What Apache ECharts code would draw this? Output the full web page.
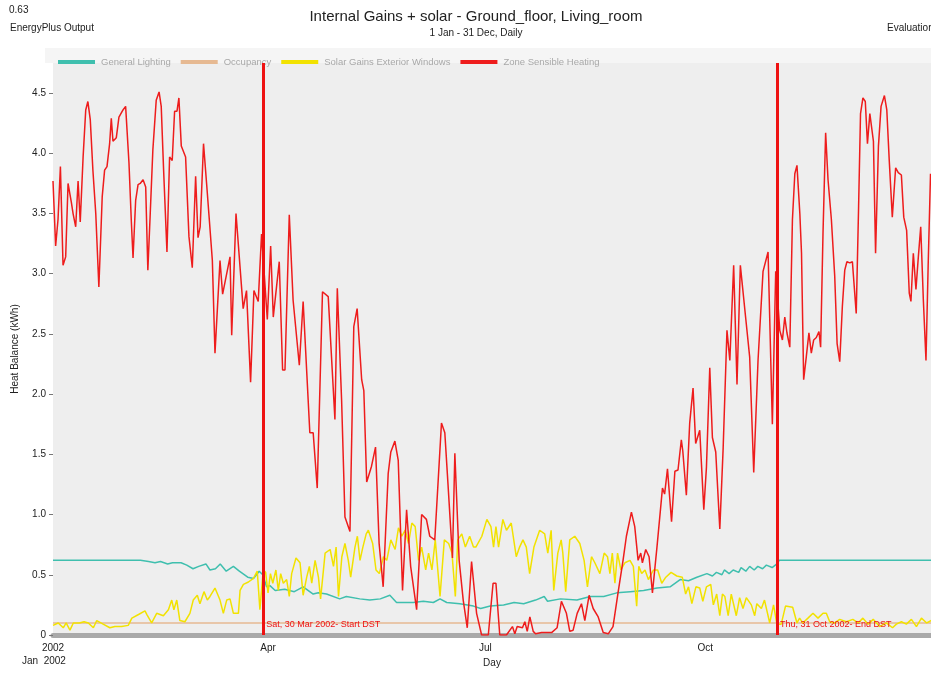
<!DOCTYPE html>
<html><head><meta charset="utf-8">
<script src="https://cdn.jsdelivr.net/npm/echarts@6/dist/echarts.min.js"></script>
<style>html,body{margin:0;padding:0;background:#fff}#c{width:931px;height:673px}</style>
</head><body><div id="c"></div>
<script>
// ---- data (x = day of year 2002, y = kWh) ----
const seriesNames = ['General Lighting','Occupancy','Solar Gains Exterior Windows','Zone Sensible Heating'];
const xTickDays = [0, 90, 181, 273];
const xTickLabels = ['2002','Apr','Jul','Oct'];
const yTicks = [0,0.5,1,1.5,2,2.5,3,3.5,4,4.5];
const dstDays = [88, 303];
const dstLabels = ['Sat, 30 Mar 2002- Start DST','Thu, 31 Oct 2002- End DST'];

const lighting = [[0,0.62],[33,0.62],[36.6,0.62],[40,0.61],[42.7,0.60],[45,0.61],[48,0.59],[50,0.60],[53.6,0.60],[56,0.58],[58.6,0.55],[61,0.57],[64,0.59],[65.7,0.54],[68,0.55],[70,0.59],[72.5,0.53],[75.5,0.57],[78,0.53],[81.5,0.48],[84,0.47],[86.3,0.53],[87.8,0.50],[89.4,0.40],[90.8,0.41],[93,0.37],[97,0.38],[101,0.36],[104.7,0.40],[108.9,0.34],[111,0.35],[114.5,0.34],[120,0.30],[122.8,0.32],[128.4,0.30],[132.6,0.29],[137,0.30],[141,0.33],[143.8,0.27],[150.8,0.27],[155,0.28],[159.2,0.27],[162,0.30],[164.8,0.27],[170.3,0.26],[176,0.24],[179,0.22],[183,0.24],[188.6,0.25],[193,0.27],[197,0.26],[202,0.29],[205.6,0.32],[207,0.28],[212.4,0.30],[219.3,0.29],[224.9,0.32],[230.5,0.32],[236,0.35],[241.6,0.36],[247.2,0.37],[252.8,0.39],[258.3,0.40],[262.5,0.46],[266,0.45],[269.5,0.48],[273.7,0.51],[276,0.49],[277.7,0.52],[280,0.50],[281,0.54],[283,0.51],[284.7,0.54],[287,0.52],[288,0.56],[290,0.53],[291.6,0.57],[293.5,0.54],[295,0.57],[297,0.55],[298.6,0.58],[301,0.56],[303,0.59],[304,0.62],[368.4,0.62]];

const occupancy = [[0,0.1],[88,0.1],[303,0.1],[368.4,0.1]];

const solar = [[0,0.08],[2.2,0.10],[4.3,0.06],[5.5,0.10],[7.1,0.04],[8.5,0.10],[11,0.10],[13,0.11],[14.8,0.10],[16.9,0.06],[18.3,0.12],[21,0.09],[23.8,0.06],[25.9,0.07],[28.7,0.07],[31.5,0.08],[33,0.14],[35.8,0.17],[38.5,0.20],[39.3,0.17],[41.3,0.10],[43.4,0.18],[46.2,0.16],[48.3,0.21],[49.7,0.29],[50.6,0.21],[51.8,0.29],[53.1,0.12],[55.2,0.11],[57.3,0.18],[58.7,0.29],[60.4,0.33],[61.5,0.26],[63.2,0.36],[64.6,0.29],[65.7,0.32],[67.8,0.39],[69.9,0.29],[71.3,0.18],[72.7,0.29],[74.1,0.30],[75.5,0.18],[77.6,0.18],[78.3,0.37],[79.7,0.42],[81.8,0.44],[83.9,0.47],[85.5,0.53],[86.6,0.21],[88,0.54],
[89,0.52],[90,0.35],[91,0.51],[92,0.43],[93.3,0.54],[94.3,0.37],[95.3,0.51],[96.4,0.43],[97.8,0.46],[98.9,0.32],[99.9,0.51],[101.7,0.64],[103.4,0.60],[104.7,0.33],[106.2,0.48],[107.3,0.57],[108.3,0.43],[109.7,0.62],[111.1,0.48],[112,0.30],[113.9,0.68],[116,0.71],[117.4,0.57],[118.5,0.73],[119.5,0.32],[120.9,0.65],[122.2,0.76],[123.6,0.62],[124.6,0.48],[126.4,0.73],[127.4,0.82],[128.5,0.62],[129.7,0.73],[131.1,0.84],[132,0.87],[133.8,0.76],[135.2,0.54],[136.6,0.51],[138.3,0.65],[139.7,0.62],[141.4,0.79],[143.2,0.71],[144.6,0.89],[146,0.82],[147.4,0.87],[148.8,0.76],[150.2,0.93],[151.6,0.90],[153,0.62],[154.3,0.73],[156,0.54],[157.2,0.68],[158.6,0.54],[160,0.79],[162,0.32],[163.8,0.79],[165.6,0.76],[167,0.68],[168.4,0.32],[169.4,0.79],[171.1,0.84],[172.6,0.73],[174.4,0.82],[176,0.73],[177,0.73],
[179.5,0.82],[181.6,0.96],[183.3,0.90],[184.4,0.73],[185.4,0.90],[186.5,0.73],[188.3,0.96],[189.8,0.87],[191.8,0.93],[193.9,0.65],[195.3,0.73],[196.7,0.79],[198.1,0.73],[199.5,0.51],[201.3,0.73],[203.7,0.87],[205.8,0.84],[207.1,0.68],[208.5,0.87],[209.6,0.37],[211.3,0.68],[212.7,0.79],[213.4,0.68],[214.6,0.36],[216.3,0.79],[218.4,0.82],[220.5,0.76],[222.3,0.62],[223.7,0.40],[225.4,0.65],[226.8,0.60],[228.9,0.51],[230.7,0.68],[232.1,0.65],[233.1,0.51],[234.1,0.68],[235.2,0.43],[236.3,0.68],[237.7,0.54],[239.4,0.60],[241.5,0.62],[242.9,0.57],[244.3,0.24],[245.2,0.57],[246.4,0.51],[247.8,0.54],[249.2,0.46],[251.3,0.54],[253.1,0.54],[254.8,0.43],[256.5,0.48],[258.7,0.52],[261.1,0.49],[263.4,0.48],[264.8,0.34],[266,0.40],[267.4,0.26],[269.1,0.40],
[270.7,0.39],[272,0.28],[273.5,0.40],[275.3,0.42],[276.4,0.25],[277.8,0.34],[279.1,0.16],[280.2,0.34],[281.2,0.32],[282.6,0.16],[283.9,0.34],[286,0.16],[287.4,0.31],[288.8,0.22],[290.2,0.31],[292.3,0.25],[293.7,0.16],[294.6,0.26],[296.5,0.22],[297.8,0.29],[300,0.10],[301.6,0.25],[303,0.09],[304.8,0.09],[306.6,0.24],[309.6,0.23],[311.4,0.10],[312.5,0.14],[313.8,0.10],[316,0.14],[318.1,0.18],[320.2,0.14],[322.3,0.18],[323.7,0.18],[325.1,0.11],[327.2,0.10],[329.3,0.13],[332.1,0.11],[334.8,0.13],[337,0.10],[339,0.14],[341.2,0.09],[343.3,0.13],[346,0.07],[348.8,0.10],[351.4,0.06],[353,0.09],[355.1,0.11],[357.2,0.09],[359.3,0.13],[361.4,0.07],[363.5,0.14],[365.7,0.10],[368.4,0.13]];

const heating = [[0,3.77],[1.1,3.23],[2.1,3.45],[3.1,3.89],[4.2,3.07],[5.3,3.14],[6.3,3.75],[7.7,3.59],[8.4,3.50],[9.5,3.39],[10.5,3.77],[11.4,3.43],[12.6,3.97],[13.7,4.36],[14.6,4.43],[15.6,4.28],[16.7,3.86],[17.9,3.50],[19.2,2.89],[20.6,3.64],[21.6,3.86],[22.6,3.89],[23.7,4.08],[24.4,4.29],[25.1,4.10],[26.5,4.13],[27.6,4.30],[29.3,4.36],[30.4,4.39],[31.8,3.92],[32.8,3.43],[33.5,3.13],[34.6,3.61],[35.6,3.74],[36.5,3.75],[37.7,3.78],[38.8,3.72],[39.7,3.03],[40.7,3.50],[41.8,4.03],[43.2,4.44],[44.4,4.51],[45.3,4.39],[46.3,3.86],[47.7,3.18],[48.8,3.97],[49.9,3.94],[50.9,4.35],[51.9,4.35],[52.7,4.46],[53.7,4.06],[55.5,3.97],[56.9,3.31],[58.3,3.05],[59.7,3.81],[60.7,3.30],[61.6,3.39],[63,4.08],[64.4,3.72],[65.5,3.43],[66.7,3.11],[67.8,2.34],[69.9,3.11],[71,2.83],[74.1,3.14],[74.8,2.49],[76.6,3.50],[79.6,2.71],[81,2.86],[82.7,2.10],[84.1,2.86],[85.9,2.77],[87.3,3.33],
[89.7,2.62],[91.1,3.23],[92.2,2.64],[94.7,3.10],[96.1,2.20],[97.1,2.20],[98.9,3.49],[100.5,2.78],[103.1,2.24],[104.7,2.77],[107.5,1.68],[108.9,1.68],[110.6,1.22],[112.8,2.85],[115.2,2.81],[118,1.79],[119,2.88],[120.8,1.95],[122.2,0.98],[124.3,0.86],[125.9,2.56],[127.3,2.71],[129.2,2.12],[130.1,2.03],[131.3,1.27],[133.3,1.40],[135,1.56],[136.5,0.76],[138.2,0.40],[140.3,1.34],[141.4,1.52],[143.1,1.61],[144.5,1.45],[146.3,0.37],[148,1.04],[149.7,0.57],[152.2,0.21],[154.3,1.0],[156.3,0.96],[157.7,0.82],[159.8,0.79],[162.6,1.76],[164,1.68],[165.4,1.23],[167.2,0.64],[168.2,1.51],[170,0.62],[171.7,0.29],[173.4,0.06],[175.2,0.61],[177.3,0.18],
[179.4,0],[182.2,0],[184.2,0.43],[185.4,0.43],[187,0],[189.8,0],[192.3,0.07],[193.3,0.01],[194.3,0.07],[196.5,0.06],[197.5,0.11],[198.5,0.03],[199.6,0.15],[201,0.03],[202,0.01],[204.5,0.02],[206.6,0.02],[208.7,0.02],[211,0.06],[212.8,0.28],[214.9,0.18],[216.3,0.03],[217.7,0.04],[219.4,0.18],[221.2,0.26],[222.6,0.12],[224.4,0.33],[226.1,0.22],[228.2,0.15],[230.3,0.02],[232.4,0.01],[234.4,0.07],[236.5,0.35],[238.6,0.62],[240,0.82],[242.1,1.02],[243.5,0.90],[244.9,0.62],[246,0.68],[246.7,0.60],[248.1,0.71],[249.5,0.65],[250.9,0.35],[252.8,0.73],[255.1,1.22],[256,1.17],[257.2,1.38],[258.9,0.94],[260.3,1.36],[261.6,1.37],[263,1.62],[263.6,1.53],[265.1,1.16],[266.5,1.76],[267.9,2.05],[269,1.59],
[270.7,1.70],[272.4,1.04],[273.5,1.39],[274.9,2.22],[276,1.64],[277.4,1.52],[279.1,0.88],[280.5,1.55],[282.1,2.53],[283.3,2.28],[284.9,3.07],[286.3,2.08],[287.7,3.07],[290,2.62],[291.6,2.31],[293.3,1.35],[295.1,2.28],[297.2,3.02],[299.3,3.18],[301.1,1.75],[302.5,3.02],[304.2,2.53],[305.3,2.45],[306.3,2.64],[307.2,2.51],[308.4,2.39],[309.5,3.45],[310.5,3.83],[311.4,3.90],[312.6,3.50],[313.3,3.17],[314.2,2.12],[315.3,2.31],[316.4,2.51],[317.4,2.34],[318.4,2.45],[319.5,2.47],[320.6,2.52],[321.3,2.39],[322.3,3.34],[323.4,4.17],[324.4,3.78],[325.8,3.45],[327.2,2.98],[328.2,2.42],[329.3,2.27],[330.4,2.73],[331.4,3.03],[332.3,3.10],[333.5,3.09],[334.6,3.10],[336.2,2.67],[337.2,3.56],[338,4.33],[339,4.46],[340,4.43],[340.9,4.08],[341.9,4.33],[343.4,4.10],[344.3,3.17],[345.5,4.06],[346.6,4.39],[348,4.48],[349,4.36],[350,3.95],[351.3,3.47],[352.7,3.88],[353.8,3.84],[355.1,3.82],[356.1,3.47],[357.3,3.36],[358.4,2.84],[359.1,2.77],[360.1,3.17],[361.2,2.87],[362.2,3.14],[363.2,3.39],[364.3,2.78],[365.4,2.28],[366.3,3.06],[367.3,3.83],[368.4,3.74]];

// ---- chart ----
const colors = ['#3fbfae','#e6b992','#f2e200','#ee1c1c'];
const FONT = 'Liberation Sans, Arial, sans-serif';
const chart = echarts.init(document.getElementById('c'), null, {renderer:'canvas'});

function lineSeries(name, data, color, extra) {
  return Object.assign({
    name, type:'line', data, showSymbol:false, symbol:'none', clip:true,
    lineStyle:{color, width:1.5}, itemStyle:{color}, animation:false
  }, extra || {});
}

chart.setOption({
  animation:false,
  textStyle:{fontFamily:FONT},
  title:{
    text:'Internal Gains + solar - Ground_floor, Living_room',
    subtext:'1 Jan - 31 Dec, Daily',
    left:471, top:4, textAlign:'center', itemGap:4,
    textStyle:{fontSize:15, fontWeight:'normal', color:'#222', fontFamily:FONT},
    subtextStyle:{fontSize:10, color:'#222', fontFamily:FONT}
  },
  legend:{
    data:seriesNames, left:53, top:52, icon:'rect', itemWidth:37, itemHeight:4,
    itemGap:10, textStyle:{fontSize:9.5, color:'#a8a8a8', fontFamily:FONT, padding:[0,0,0,1]}
  },
  grid:{left:53, right:0, top:63, bottom:38, show:true, backgroundColor:'#eeeeee', borderWidth:0},
  xAxis:{
    type:'value', min:0, max:367.5, offset:3,
    name:'Day', nameLocation:'middle', nameGap:18,
    nameTextStyle:{fontSize:10, color:'#222'},
    axisLine:{show:true, lineStyle:{color:'#a9a9a9', width:5}},
    axisTick:{show:false},
    splitLine:{show:false},
    axisLabel:{customValues:xTickDays, margin:5, fontSize:10, color:'#222',
      formatter:(v)=>xTickLabels[xTickDays.indexOf(v)] ?? ''}
  },
  yAxis:{
    type:'value', min:0, max:4.75,
    name:'Heat Balance (kWh)', nameLocation:'middle', nameGap:33, nameRotate:90,
    nameTextStyle:{fontSize:10, color:'#222'},
    axisLine:{show:false},
    axisTick:{show:true, customValues:yTicks, length:4, lineStyle:{color:'#777'}},
    splitLine:{show:false},
    axisLabel:{customValues:yTicks, margin:7, fontSize:10, color:'#222',
      formatter:(v)=> v===0 ? '0' : v.toFixed(1)}
  },
  graphic:[
    {type:'rect', left:45, top:48, shape:{width:886, height:15}, style:{fill:'#f5f5f5'}, z:-1},
    {type:'text', left:9, top:5, style:{text:'0.63', fontSize:10, fill:'#222', fontFamily:FONT}},
    {type:'text', left:10, top:23, style:{text:'EnergyPlus Output', fontSize:10, fill:'#222', fontFamily:FONT}},
    {type:'text', left:887, top:23, style:{text:'Evaluation', fontSize:10, fill:'#222', fontFamily:FONT}},
    {type:'text', left:22, top:656, style:{text:'Jan  2002', fontSize:10, fill:'#222', fontFamily:FONT}}
  ],
  series:[
    lineSeries(seriesNames[0], lighting, colors[0]),
    lineSeries(seriesNames[1], occupancy, colors[1]),
    lineSeries(seriesNames[2], solar, colors[2]),
    lineSeries(seriesNames[3], heating, colors[3], {
      markLine:{
        silent:true, symbol:['none','none'], animation:false,
        lineStyle:{color:'#ee1111', width:3, type:'solid'},
        label:{show:false},
        data: dstDays.map(d=>({xAxis:d}))
      },
      markPoint:{
        silent:true, symbol:'circle', symbolSize:0, animation:false,
        label:{show:true, position:'right', distance:3, color:'#ee1111', fontSize:9, fontFamily:FONT,
          formatter:(p)=>p.data.name},
        data: dstDays.map((d,i)=>({coord:[d,0.085], name:dstLabels[i], value:0}))
      }
    })
  ]
});
</script>
</body></html>
